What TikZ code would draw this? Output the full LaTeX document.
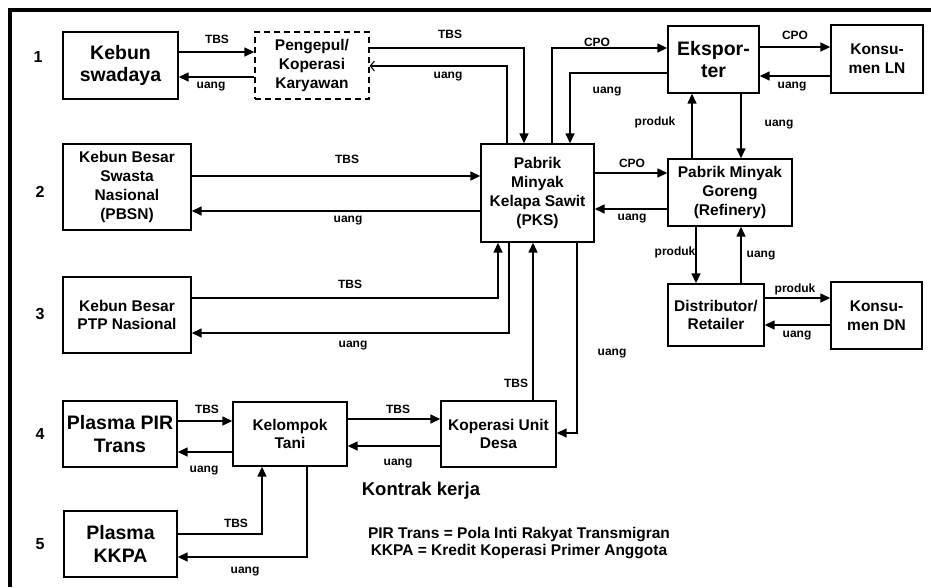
\documentclass[tikz,border=0pt]{standalone}
\usepackage{fontspec}
\setmainfont{Liberation Sans}
\usetikzlibrary{arrows.meta}
\begin{document}
\begin{tikzpicture}[x=1pt,y=-1pt,
  box/.style={draw, line width=1.4pt, inner sep=0pt, align=center,
    font=\bfseries\fontsize{15.5}{18.7}\selectfont},
  bigbox/.style={box, font=\bfseries\fontsize{19.5}{22.5}\selectfont},
  lbl/.style={inner sep=0pt, font=\bfseries\fontsize{12}{14}\selectfont},
  num/.style={inner sep=0pt, font=\bfseries\fontsize{16}{18}\selectfont},
  ln/.style={line width=1.5pt},
  arr/.style={ln, -{Triangle[length=10pt,width=9pt]}},
  openarr/.style={line width=1.1pt, -{Straight Barb[length=4pt,width=10pt]}}]
\useasboundingbox (0,0) rectangle (931,587);
\draw[line width=3.5pt] (10,587) -- (10,10) -- (931,10);

% nodes
\node[bigbox, minimum width=115, minimum height=67] (keb) at (120.5,65.5) {Kebun\\swadaya};
\node[box, dashed, dash pattern=on 6pt off 4pt, minimum width=114, minimum height=67] (pen) at (312,65.5) {Pengepul/\\Koperasi\\Karyawan};
\node[box, minimum width=113, minimum height=98] (pks) at (537.5,193) {Pabrik\\Minyak\\Kelapa Sawit\\(PKS)};
\node[bigbox, minimum width=91, minimum height=67] (eks) at (713.5,59.5) {Ekspor-\\ter};
\node[box, minimum width=92, minimum height=68] (kln) at (877,59) {Konsu-\\men LN};
\node[box, minimum width=124, minimum height=67] (ref) at (730,192.5) {Pabrik Minyak\\Goreng\\(Refinery)};
\node[box, minimum width=96, minimum height=62] (dis) at (716,315) {Distributor/\\Retailer};
\node[box, minimum width=91, minimum height=67] (kdn) at (876.5,315.5) {Konsu-\\men DN};
\node[box, minimum width=128, minimum height=86] (pbsn) at (127,187) {Kebun Besar\\Swasta\\Nasional\\(PBSN)};
\node[box, minimum width=128, minimum height=76] (ptp) at (127,315) {Kebun Besar\\PTP Nasional};
\node[bigbox, minimum width=114, minimum height=66] (pir) at (120,434) {Plasma PIR\\Trans};
\node[box, minimum width=114, minimum height=64] (kel) at (290,434) {Kelompok\\Tani};
\node[box, minimum width=115, minimum height=66] (kud) at (498.5,434) {Koperasi Unit\\Desa};
\node[bigbox, minimum width=113, minimum height=66] (kkpa) at (120.5,544) {Plasma\\KKPA};

% row numbers
\node[num] (n1) at (38,57) {1};
\node[num] (n2) at (40,192) {2};
\node[num] (n3) at (40,314) {3};
\node[num] (n4) at (40,434) {4};
\node[num] (n5) at (40,544) {5};

% connectors
\draw[arr] (keb.east |- 0,52) -- (pen.west |- 0,52);
\draw[arr] (pen.west |- 0,77) -- (keb.east |- 0,77);
\draw[arr] (pen.east |- 0,48) -| (pks.north -| 524,0);
\draw[openarr] (pks.north -| 507,0) |- (pen.east |- 0,66);
\draw[arr] (pks.north -| 552,0) |- (eks.west |- 0,48);
\draw[arr] (eks.west |- 0,73) -| (pks.north -| 570,0);
\draw[arr] (eks.east |- 0,47) -- (kln.west |- 0,47);
\draw[arr] (kln.west |- 0,76) -- (eks.east |- 0,76);
\draw[arr] (ref.north -| 692,0) -- (eks.south -| 692,0);
\draw[arr] (eks.south -| 741,0) -- (ref.north -| 741,0);
\draw[arr] (pks.east |- 0,173) -- (ref.west |- 0,173);
\draw[arr] (ref.west |- 0,209) -- (pks.east |- 0,209);
\draw[arr] (ref.south -| 696,0) -- (dis.north -| 696,0);
\draw[arr] (dis.north -| 741,0) -- (ref.south -| 741,0);
\draw[arr] (dis.east |- 0,298) -- (kdn.west |- 0,298);
\draw[arr] (kdn.west |- 0,325) -- (dis.east |- 0,325);
\draw[arr] (pbsn.east |- 0,176) -- (pks.west |- 0,176);
\draw[arr] (pks.west |- 0,211) -- (pbsn.east |- 0,211);
\draw[arr] (ptp.east |- 0,298) -| (pks.south -| 498,0);
\draw[arr] (pks.south -| 509,0) |- (ptp.east |- 0,333);
\draw[arr] (kud.north -| 533,0) -- (pks.south -| 533,0);
\draw[arr] (pks.south -| 577,0) |- (kud.east |- 0,433);
\draw[arr] (pir.east |- 0,421) -- (kel.west |- 0,421);
\draw[arr] (kel.west |- 0,452) -- (pir.east |- 0,452);
\draw[arr] (kel.east |- 0,419) -- (kud.west |- 0,419);
\draw[arr] (kud.west |- 0,446) -- (kel.east |- 0,446);
\draw[arr] (kkpa.east |- 0,534) -| (kel.south -| 262,0);
\draw[arr] (kel.south -| 307,0) |- (kkpa.east |- 0,557);

% connector labels
\node[lbl] (l1) at (217,39) {TBS};
\node[lbl] (l2) at (211,87) {uang};
\node[lbl] (l3) at (450,34) {TBS};
\node[lbl] (l4) at (448,77) {uang};
\node[lbl] (l5) at (597,42) {CPO};
\node[lbl] (l6) at (607,92) {uang};
\node[lbl] (l7) at (795,35) {CPO};
\node[lbl] (l8) at (792,87) {uang};
\node[lbl] (l9) at (655,122) {produk};
\node[lbl] (l10) at (779,125) {uang};
\node[lbl] (l11) at (632,163) {CPO};
\node[lbl] (l12) at (632,219) {uang};
\node[lbl] (l13) at (675,252) {produk};
\node[lbl] (l14) at (761,256) {uang};
\node[lbl] (l15) at (795,289) {produk};
\node[lbl] (l16) at (797,336) {uang};
\node[lbl] (l17) at (347,159) {TBS};
\node[lbl] (l18) at (348,221) {uang};
\node[lbl] (l19) at (350,284) {TBS};
\node[lbl] (l20) at (353,346) {uang};
\node[lbl] (l21) at (516,383) {TBS};
\node[lbl] (l22) at (612,354) {uang};
\node[lbl] (l23) at (207,409) {TBS};
\node[lbl] (l24) at (204,471) {uang};
\node[lbl] (l25) at (398,409) {TBS};
\node[lbl] (l26) at (398,464) {uang};
\node[lbl] (l27) at (236,523) {TBS};
\node[lbl] (l28) at (245,572) {uang};

% notes
\node[inner sep=0pt, font=\bfseries\fontsize{18.5}{20}\selectfont] (kontrak) at (421,491) {Kontrak kerja};
\node[inner sep=0pt, align=center, font=\bfseries\fontsize{15.5}{17}\selectfont] (legend) at (519,543.5) {PIR Trans = Pola Inti Rakyat Transmigran\\KKPA = Kredit Koperasi Primer Anggota};
\end{tikzpicture}
\end{document}
